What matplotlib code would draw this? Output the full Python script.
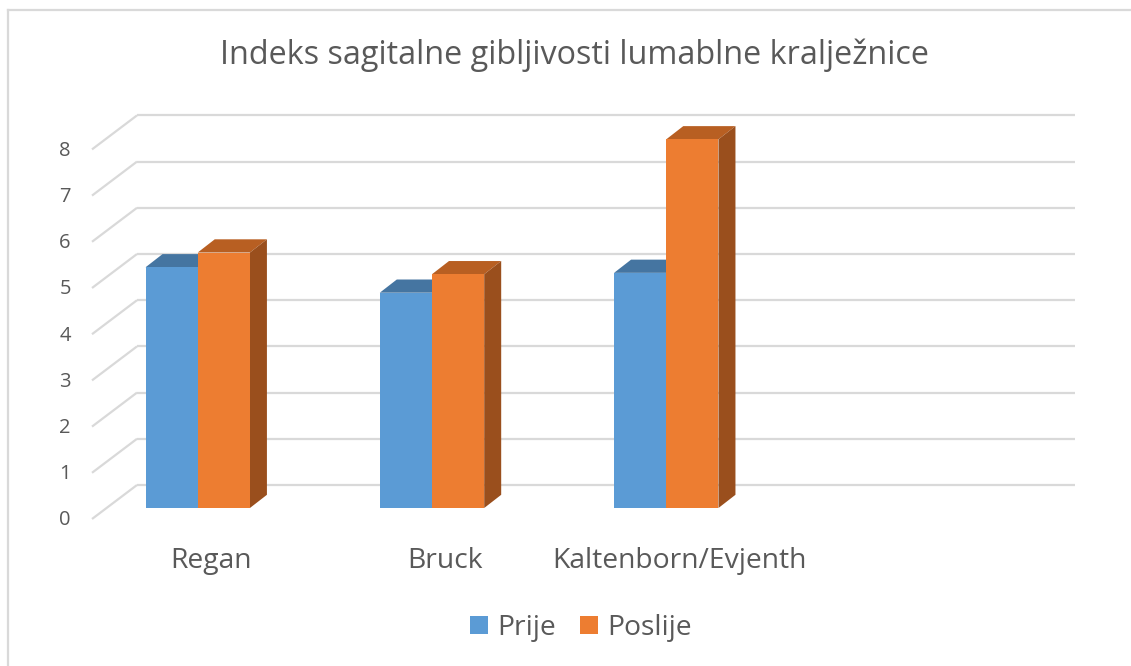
import matplotlib
matplotlib.use('Agg')
import matplotlib.pyplot as plt
from matplotlib.patches import Polygon, Patch
from matplotlib.lines import Line2D

# ---------------- data ----------------
categories = ['Regan', 'Bruck', 'Kaltenborn/Evjenth', '']
prije = [5.21, 4.66, 5.09]
poslije = [5.53, 5.06, 7.98]
series_names = ['Prije', 'Poslije']
yticks = [0, 1, 2, 3, 4, 5, 6, 7, 8]
title = 'Indeks sagitalne gibljivosti lumablne kralježnice'

# ---------------- style ----------------
FONT = ['Open Sans', 'DejaVu Sans']
TXT = '#595959'
GRID = '#D9D9D9'
blue = dict(front='#5B9BD5', top='#4575A1', side='#3E6A92')
orange = dict(front='#ED7D31', top='#B85F22', side='#9A4F1D')

W, H = 1131, 666
fig = plt.figure(figsize=(W / 100, H / 100), dpi=100)
fig.patch.set_facecolor('white')

# axes = plane of the bars' front faces (pixel geometry of the reference)
left_px, right_px, base_px, top_px = 106.6, 1044.6, 508.0, 138.4
ax = fig.add_axes([left_px / W, (H - base_px) / H,
                   (right_px - left_px) / W, (base_px - top_px) / H])
x0, x1 = -0.389, 3.615
ax.set_xlim(x0, x1)
ax.set_ylim(0, 8)
ax.axis('off')

ppx = (right_px - left_px) / (x1 - x0)   # pixels per category unit
ppy = (base_px - top_px) / 8.0           # pixels per value unit

# depth offsets (pixels -> data units)
back_dx, back_dy = 30.4 / ppx, 23.0 / ppy      # back wall
front_dx, front_dy = -14.6 / ppx, -11.0 / ppy  # front of side wall
bar_dx, bar_dy = 17.0 / ppx, 13.2 / ppy        # bar depth

# back wall gridlines and side wall diagonals
for v in yticks:
    ax.plot([x0 + back_dx, x1 + back_dx], [v + back_dy, v + back_dy],
            color=GRID, lw=1.6, clip_on=False, zorder=1, solid_capstyle='butt')
    ax.plot([x0 + front_dx, x0 + back_dx], [v + front_dy, v + back_dy],
            color=GRID, lw=1.6, clip_on=False, zorder=1, solid_capstyle='butt')
    ax.text(-0.5664, v + front_dy - 0.03, str(v), ha='center', va='center',
            fontsize=14.5, color=TXT, family=FONT)

bw = 0.2228
def bar3d(xc, v, col, z):
    xa, xb = xc - bw / 2, xc + bw / 2
    ax.add_patch(Polygon([(xa, v), (xb, v), (xb + bar_dx, v + bar_dy), (xa + bar_dx, v + bar_dy)],
                         closed=True, facecolor=col['top'], edgecolor='none', zorder=z, clip_on=False))
    ax.add_patch(Polygon([(xb, 0), (xb + bar_dx, bar_dy), (xb + bar_dx, v + bar_dy), (xb, v)],
                         closed=True, facecolor=col['side'], edgecolor='none', zorder=z, clip_on=False))
    ax.bar(xc, v, width=bw, color=col['front'], zorder=z + 0.5, clip_on=False, linewidth=0)

for i, v in enumerate(prije):
    bar3d(i - bw / 2, v, blue, 2)
for i, v in enumerate(poslije):
    bar3d(i + bw / 2, v, orange, 4)

for i, c in enumerate(categories):
    ax.text(i + 0.057, -1.147, c, ha='center', va='center', fontsize=20.3,
            color=TXT, family=FONT)

fig.text(575 / W, 1 - 55 / H, title, ha='center', va='center', fontsize=23.3,
         color=TXT, family=FONT)

handles = [Patch(facecolor=blue['front'], edgecolor='none'),
           Patch(facecolor=orange['front'], edgecolor='none')]
leg = fig.legend(handles, series_names, loc='center', bbox_to_anchor=(581 / W, 1 - 628 / H),
                 ncol=2, frameon=False, handlelength=0.62, handleheight=0.62,
                 handletextpad=0.32, columnspacing=0.88,
                 prop=dict(family=FONT, size=20.3))
for t in leg.get_texts():
    t.set_color(TXT)

# chart border (only top/left visible in reference)
fig.add_artist(Line2D([7.8 / W, 7.8 / W], [1 - 10.3 / H, -0.01], color=GRID, lw=1.6,
                      transform=fig.transFigure))
fig.add_artist(Line2D([7.8 / W, 1.01], [1 - 10.3 / H, 1 - 10.3 / H], color=GRID, lw=1.6,
                      transform=fig.transFigure))

fig.savefig('out.png', dpi=100)
